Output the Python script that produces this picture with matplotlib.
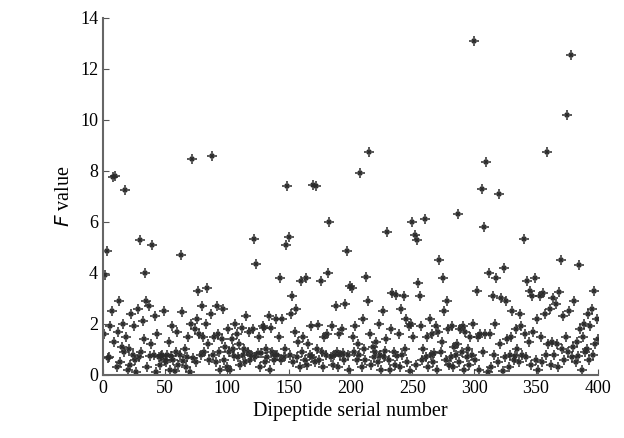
import matplotlib.pyplot as plt
import numpy as np

f_values = [
    1.6, 3.9, 4.85, 0.65, 0.7, 1.9, 2.5, 7.75, 1.3, 7.8, 0.3, 1.7, 2.9, 0.5, 1.1, 2.0, 0.9, 7.25, 1.5, 0.2,
    1.0, 0.4, 2.4, 0.8, 1.9, 0.6, 0.1, 2.6, 0.7, 5.3, 0.9, 2.1, 1.4, 4.0, 2.9, 0.3, 2.7, 0.75, 1.2, 5.1,
    0.8, 2.3, 0.1, 1.6, 0.7, 0.4, 0.75, 0.8, 2.5, 0.6, 0.5, 0.8, 1.3, 0.2, 0.75, 1.9, 0.6, 0.15, 0.9, 1.7,
    0.4, 0.8, 4.7, 2.45, 0.55, 1.0, 0.3, 0.7, 1.5, 0.1, 2.0, 8.45, 0.65, 1.8, 0.5, 2.2, 3.3, 1.6, 0.8, 2.7,
    1.5, 0.9, 2.0, 3.4, 1.2, 0.6, 2.4, 8.6, 0.8, 1.5, 0.5, 2.7, 1.6, 0.9, 0.2, 1.4, 2.6, 0.6, 1.1, 0.3,
    1.8, 0.9, 0.2, 1.4, 1.0, 0.75, 2.0, 1.6, 0.7, 1.2, 0.4, 1.85, 0.8, 1.0, 0.5, 2.3, 0.9, 1.7, 0.6, 0.8,
    1.8, 5.35, 0.7, 4.35, 0.85, 1.5, 0.3, 0.85, 1.9, 1.85, 0.5, 1.0, 0.7, 2.3, 0.2, 1.85, 0.9, 0.6, 0.8, 2.2,
    0.8, 1.5, 3.8, 0.6, 2.2, 0.7, 1.0, 5.1, 7.4, 5.4, 0.8, 2.4, 3.1, 0.5, 1.7, 2.6, 0.7, 1.3, 0.3, 3.7,
    0.9, 1.5, 0.6, 3.8, 0.4, 1.2, 0.8, 1.9, 0.7, 7.45, 0.5, 7.4, 1.0, 1.95, 0.6, 3.7, 0.9, 0.3, 1.5, 0.8,
    1.6, 4.0, 6.0, 0.7, 1.9, 0.4, 0.8, 2.7, 0.9, 0.3, 1.6, 0.8, 1.8, 0.85, 0.6, 2.8, 4.85, 0.8, 0.2, 3.5,
    3.4, 1.5, 0.9, 1.9, 0.6, 1.2, 0.8, 7.9, 0.3, 2.2, 1.0, 0.6, 3.85, 2.9, 8.75, 1.6, 0.4, 1.1, 0.7, 0.9,
    1.3, 0.5, 2.0, 0.8, 0.2, 2.5, 0.7, 0.95, 1.4, 5.6, 0.6, 0.2, 1.8, 3.2, 0.9, 0.4, 3.15, 0.75, 1.6, 0.3,
    2.6, 0.8, 3.1, 1.0, 2.2, 0.5, 1.9, 0.15, 2.0, 6.0, 1.5, 5.5, 0.4, 5.3, 3.6, 3.1, 1.9, 0.6, 1.0, 6.1,
    0.7, 1.5, 0.3, 2.2, 0.8, 1.6, 0.5, 0.85, 1.9, 0.2, 1.7, 4.5, 0.9, 1.3, 3.8, 2.5, 0.6, 2.9, 1.8, 0.4,
    0.7, 1.9, 0.3, 1.1, 0.8, 1.2, 6.3, 0.5, 1.8, 0.9, 1.9, 0.2, 1.7, 0.7, 1.0, 0.4, 1.5, 0.8, 2.0, 13.1,
    0.6, 3.3, 1.5, 0.2, 1.6, 7.3, 0.9, 5.8, 1.6, 8.35, 0.1, 4.0, 1.6, 0.3, 3.1, 0.8, 2.0, 3.8, 0.5, 7.1,
    1.2, 3.0, 0.15, 4.2, 0.7, 2.9, 1.4, 0.3, 0.8, 1.5, 2.5, 0.6, 0.75, 1.8, 1.0, 0.5, 2.4, 1.9, 0.8, 5.35,
    1.6, 0.7, 3.7, 1.3, 3.3, 0.4, 3.1, 1.7, 3.8, 0.6, 2.2, 0.2, 3.1, 1.5, 0.5, 3.2, 2.4, 0.8, 8.75, 1.2,
    2.6, 0.4, 1.3, 3.0, 0.8, 2.8, 1.2, 0.3, 3.25, 4.5, 1.0, 2.3, 0.6, 1.5, 10.2, 0.9, 2.5, 12.55, 0.7, 1.1,
    2.9, 0.5, 1.3, 0.75, 4.3, 1.8, 0.2, 1.5, 2.0, 0.9, 1.0, 2.4, 0.6, 1.9, 2.6, 0.8, 3.3, 1.2, 2.2, 1.4,
]
serial = np.arange(1, len(f_values) + 1)

plt.rcParams['font.family'] = ['Liberation Serif', 'DejaVu Serif']
fig = plt.figure(figsize=(6.24, 4.38), dpi=100)
ax = fig.add_axes([0.165, 0.144, 0.793, 0.815])

# star-like marker: plus with a small cross on top
ax.plot(serial, f_values, ls='none', marker='+', ms=7.5, mew=1.1, color='#2b2b2b')
ax.plot(serial, f_values, ls='none', marker='x', ms=3.5, mew=1.2, color='#2b2b2b')

ax.set_xlim(0, 400)
ax.set_ylim(0, 14)
ax.set_xticks(range(0, 401, 50))
ax.set_yticks(range(0, 15, 2))
ax.tick_params(direction='in', labelsize=13, color='#555555', length=4)
for side in ['top', 'right']:
    ax.spines[side].set_visible(False)
for side in ['left', 'bottom']:
    ax.spines[side].set_color('#666666')
    ax.spines[side].set_linewidth(1.5)

ax.set_xlabel("Dipeptide serial number", fontsize=14.5)
ax.set_ylabel("$F$ value", fontsize=14.5)

plt.savefig("out.png", dpi=100)
